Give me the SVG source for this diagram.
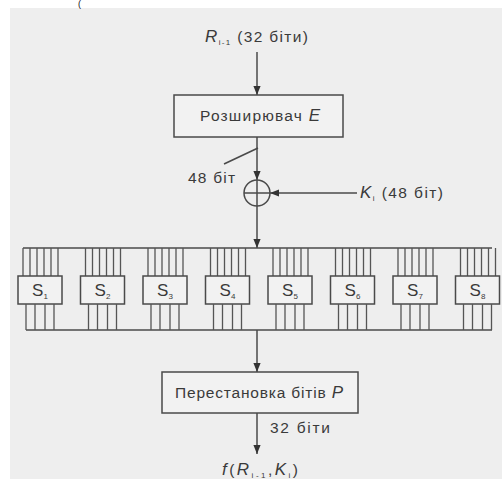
<svg xmlns="http://www.w3.org/2000/svg" width="502" height="479" viewBox="0 0 502 479">
<defs>
<style>
.ln{stroke:#4a4a4a;stroke-width:1.5;fill:none}
.bx{stroke:#4a4a4a;stroke-width:1.5;fill:#f2f2f2}
.w{stroke:#555;stroke-width:1.3;fill:none}
.t{font-family:"Liberation Sans",Arial,sans-serif;font-size:15.5px;fill:#3a3a3a}
.it{font-style:italic}
.sub{font-size:8px}
.sl{font-family:"Liberation Sans",Arial,sans-serif;font-size:17px;fill:#3a3a3a}
</style>
<marker id="ah" viewBox="0 0 10 10" refX="10" refY="5" markerWidth="9" markerHeight="9" markerUnits="userSpaceOnUse" orient="auto">
<path d="M0,1 L10,5 L0,9 Z" fill="#333"/>
</marker>
<g id="sbox">
<line class="w" x1="5" y1="-28" x2="5" y2="0"/>
<line class="w" x1="12" y1="-28" x2="12" y2="0"/>
<line class="w" x1="19" y1="-28" x2="19" y2="0"/>
<line class="w" x1="26" y1="-28" x2="26" y2="0"/>
<line class="w" x1="33" y1="-28" x2="33" y2="0"/>
<line class="w" x1="40" y1="-28" x2="40" y2="0"/>
<rect class="bx" x="0" y="0" width="44" height="28"/>
<line class="w" x1="8" y1="28" x2="8" y2="54"/>
<line class="w" x1="17" y1="28" x2="17" y2="54"/>
<line class="w" x1="27" y1="28" x2="27" y2="54"/>
<line class="w" x1="36" y1="28" x2="36" y2="54"/>
</g>
</defs>
<rect x="0" y="0" width="502" height="479" fill="#ffffff"/>
<rect x="10" y="8" width="492" height="471" fill="#eeeeee"/>
<text x="78" y="7" font-family="'Liberation Sans',Arial,sans-serif" font-size="9" fill="#111">(</text>

<g id="connectors">
<line class="ln" x1="257" y1="52" x2="257" y2="95" marker-end="url(#ah)"/>
<line class="ln" x1="257" y1="137" x2="257" y2="180" marker-end="url(#ah)"/>
<line class="ln" x1="224" y1="164" x2="258" y2="148"/>
<line class="ln" x1="357" y1="193" x2="270" y2="193" marker-end="url(#ah)"/>
<line class="ln" x1="257" y1="206" x2="257" y2="248" marker-end="url(#ah)"/>
<line class="ln" x1="23" y1="248" x2="492" y2="248"/>
<line class="ln" x1="26" y1="330" x2="492" y2="330"/>
<line class="ln" x1="257" y1="330" x2="257" y2="372" marker-end="url(#ah)"/>
<line class="ln" x1="257" y1="413" x2="257" y2="454" marker-end="url(#ah)"/>
</g>

<g id="input-label">
<text class="t" x="205" y="42" textLength="103" lengthAdjust="spacing"><tspan class="it" font-size="17">R</tspan><tspan class="sub" dy="3">i-1</tspan><tspan dy="-3"> (32 біти)</tspan></text>
</g>

<g id="expander">
<rect class="bx" x="174" y="95" width="169" height="42"/>
<text class="t" x="200" y="121" textLength="120" lengthAdjust="spacing">Розширювач <tspan class="it" font-size="17">E</tspan></text>
</g>

<g id="label-48">
<text class="t" x="188" y="183" textLength="47" lengthAdjust="spacing">48 біт</text>
</g>

<g id="xor">
<circle class="ln" cx="257" cy="193" r="13"/>
<line class="ln" x1="244" y1="193" x2="270" y2="193"/>
<line class="ln" x1="257" y1="180" x2="257" y2="206"/>
</g>

<g id="key-label">
<text class="t" x="360" y="198" textLength="83" lengthAdjust="spacing"><tspan class="it" font-size="17">K</tspan><tspan class="sub" dy="3">i</tspan><tspan dy="-3">  (48 біт)</tspan></text>
</g>

<g id="s1"><use href="#sbox" x="18" y="276"/><text class="sl" x="40" y="296" text-anchor="middle">S<tspan class="sub" dy="3">1</tspan></text></g>
<g id="s2"><use href="#sbox" x="80.5" y="276"/><text class="sl" x="102.5" y="296" text-anchor="middle">S<tspan class="sub" dy="3">2</tspan></text></g>
<g id="s3"><use href="#sbox" x="143" y="276"/><text class="sl" x="165" y="296" text-anchor="middle">S<tspan class="sub" dy="3">3</tspan></text></g>
<g id="s4"><use href="#sbox" x="205.5" y="276"/><text class="sl" x="227.5" y="296" text-anchor="middle">S<tspan class="sub" dy="3">4</tspan></text></g>
<g id="s5"><use href="#sbox" x="268" y="276"/><text class="sl" x="290" y="296" text-anchor="middle">S<tspan class="sub" dy="3">5</tspan></text></g>
<g id="s6"><use href="#sbox" x="330.5" y="276"/><text class="sl" x="352.5" y="296" text-anchor="middle">S<tspan class="sub" dy="3">6</tspan></text></g>
<g id="s7"><use href="#sbox" x="393" y="276"/><text class="sl" x="415" y="296" text-anchor="middle">S<tspan class="sub" dy="3">7</tspan></text></g>
<g id="s8"><use href="#sbox" x="455.5" y="276"/><text class="sl" x="477.5" y="296" text-anchor="middle">S<tspan class="sub" dy="3">8</tspan></text></g>

<g id="permutation">
<rect class="bx" x="162" y="372" width="196" height="41"/>
<text class="t" x="175" y="398" textLength="168" lengthAdjust="spacing">Перестановка бітів <tspan class="it" font-size="17">P</tspan></text>
</g>

<g id="label-32">
<text class="t" x="270" y="433" textLength="60" lengthAdjust="spacing">32 біти</text>
</g>

<g id="output-label">
<text class="t" x="222" y="475" textLength="76" lengthAdjust="spacing"><tspan class="it" font-size="17">f</tspan>(<tspan class="it" font-size="17">R</tspan><tspan class="sub" dy="3">i-1</tspan><tspan dy="-3">,</tspan><tspan class="it" font-size="17">K</tspan><tspan class="sub" dy="3">i</tspan><tspan dy="-3">)</tspan></text>
</g>
</svg>
